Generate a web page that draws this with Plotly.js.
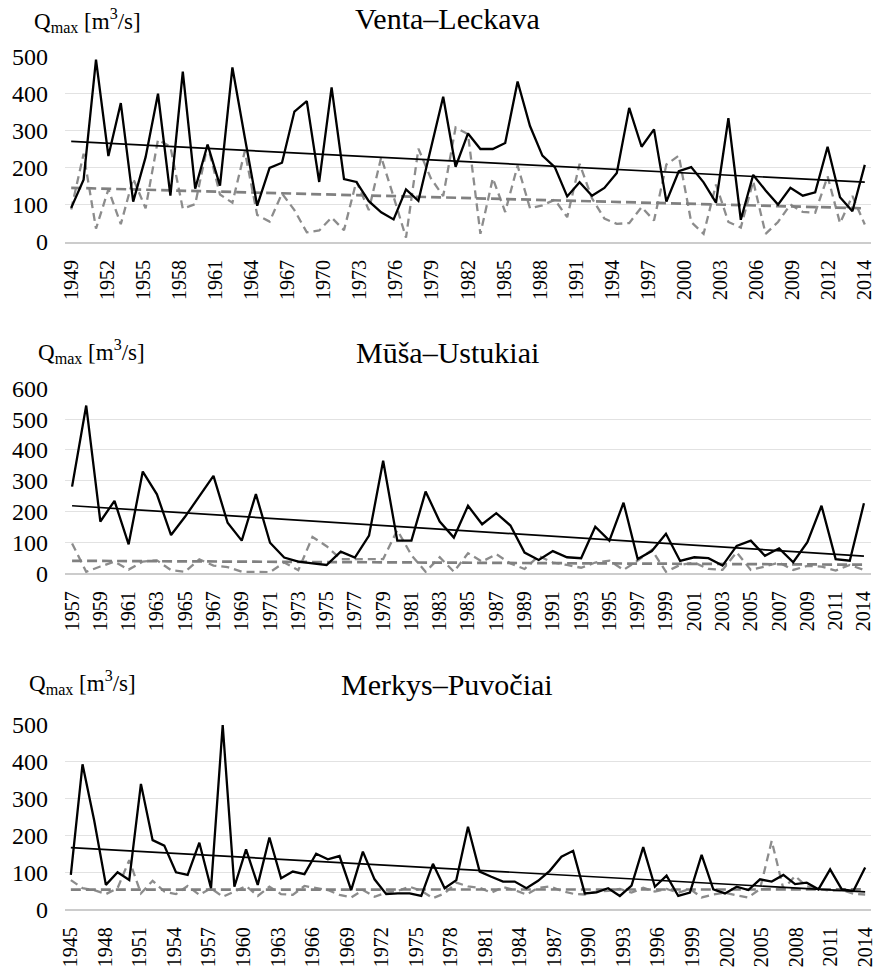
<!DOCTYPE html>
<html>
<head>
<meta charset="utf-8">
<script src="https://cdn.plot.ly/plotly-3.0.1.min.js"></script>
<style>
  html, body { margin: 0; padding: 0; background: #ffffff; }
  #chart { width: 877px; height: 973px; }
</style>
</head>
<body>
<div id="chart"></div>
<script>
// ---------------- DATA ----------------
// Venta–Leckava
const ventaTickLabels = ['1949','1952','1955','1958','1961','1964','1967','1970','1973','1976','1979','1982','1985','1988','1991','1994','1997','2000','2003','2006','2009','2012','2014'];
const ventaSolid = [92,168,492,232,375,109,229,400,125,460,144,263,152,471,282,98,200,214,352,380,162,417,170,162,110,80,61,142,111,251,392,203,293,251,251,267,433,313,233,202,123,161,125,146,186,362,257,304,109,191,202,161,106,334,60,181,139,101,146,125,134,257,121,83,208];
const ventaDashed = [88,238,36,142,48,171,91,276,257,90,102,262,128,106,245,73,55,131,86,26,31,66,32,164,86,229,122,12,252,172,124,309,291,22,172,81,206,91,99,114,67,211,118,63,49,51,94,58,209,233,54,22,155,54,39,164,22,54,101,81,79,177,51,124,47];

// Mūša–Ustukiai
const musaTickLabels = ['1957','1959','1961','1963','1965','1967','1969','1971','1973','1975','1977','1979','1981','1983','1985','1987','1989','1991','1993','1995','1997','1999','2001','2003','2005','2007','2009','2011','2014'];
const musaSolid = [281,544,168,235,94,330,256,124,184,251,316,164,106,257,99,51,38,32,27,70,51,122,365,106,106,265,168,116,219,159,195,155,67,43,72,52,49,151,106,229,46,72,128,40,52,49,25,89,106,57,81,36,101,219,46,41,227];
const musaDashed = [97,5,22,38,12,38,42,10,5,45,25,20,5,4,4,35,10,118,88,46,46,46,46,140,59,5,52,5,65,38,62,32,14,56,35,27,18,35,41,11,41,76,5,27,35,14,11,68,11,22,35,11,24,22,9,27,11];

// Merkys–Puvočiai
const merkysTickLabels = ['1945','1948','1951','1954','1957','1960','1963','1966','1969','1972','1975','1978','1981','1984','1987','1990','1993','1996','1999','2002','2005','2008','2011','2014'];
const merkysSolid = [93,392,240,66,100,79,339,187,172,100,93,180,57,498,61,162,66,194,84,102,95,150,135,144,52,156,81,41,43,43,36,123,57,79,223,102,88,75,75,57,77,104,142,158,43,46,57,36,64,168,61,91,36,45,147,54,43,61,52,81,75,93,68,72,54,108,54,50,113];
const merkysDashed = [79,57,52,41,57,133,43,77,48,41,63,39,57,34,48,63,36,61,41,39,63,57,52,39,32,52,34,45,50,61,50,30,43,72,62,58,45,60,52,40,58,62,50,42,40,48,50,55,45,58,48,55,45,55,32,40,45,38,32,55,185,55,90,62,55,50,52,42,40];

const panelTitles = ['Venta–Leckava', 'Mūša–Ustukiai', 'Merkys–Puvočiai'];
const unitLabel = 'Q<sub>max</sub> [m<sup>3</sup>/s]';

// ---------------- HELPERS ----------------
function idx(n) { return Array.from({length: n}, (_, i) => i); }
function linFit(vals) {
  const n = vals.length;
  let sx = 0, sy = 0, sxx = 0, sxy = 0;
  for (let i = 0; i < n; i++) { sx += i; sy += vals[i]; sxx += i * i; sxy += i * vals[i]; }
  const b = (n * sxy - sx * sy) / (n * sxx - sx * sx);
  const a = (sy - b * sx) / n;
  return { x: [0, n - 1], y: [a, a + b * (n - 1)] };
}
function spreadTicks(labels, n) {
  const step = (n - 1) / (labels.length - 1);
  return labels.map((_, k) => k * step);
}

const SERIF = 'Liberation Serif';
const panels = [
  { solid: ventaSolid, dashed: ventaDashed, labels: ventaTickLabels, ymax: 500, dom: [1 - 242 / 973, 1 - 56.7 / 973] },
  { solid: musaSolid, dashed: musaDashed, labels: musaTickLabels, ymax: 600, dom: [1 - 573.3 / 973, 1 - 388.3 / 973] },
  { solid: merkysSolid, dashed: merkysDashed, labels: merkysTickLabels, ymax: 500, dom: [1 - 909.3 / 973, 1 - 724.3 / 973] }
];

const traces = [];
const layout = {
  width: 877, height: 973,
  margin: { l: 65, r: 6, t: 0, b: 0 },
  paper_bgcolor: '#ffffff', plot_bgcolor: '#ffffff',
  showlegend: false,
  font: { family: SERIF, color: '#000000' },
  annotations: []
};

const titleY = [19, 352, 684];
const unitY = [21, 351, 682];
const unitX = [31.7, 36, 26.7];

panels.forEach((p, k) => {
  const sfx = k === 0 ? '' : String(k + 1);
  const xa = 'x' + sfx, ya = 'y' + sfx;
  const n = p.solid.length;
  const xs = idx(n);
  const tD = linFit(p.dashed), tS = linFit(p.solid);
  traces.push({ x: xs, y: p.dashed, xaxis: xa, yaxis: ya, mode: 'lines', hoverinfo: 'skip',
    line: { color: '#8c8c8c', width: 2.3, dash: '8px,5px' } });
  traces.push({ x: tD.x, y: tD.y, xaxis: xa, yaxis: ya, mode: 'lines', hoverinfo: 'skip',
    line: { color: '#808080', width: 2.7, dash: '10px,5px' } });
  traces.push({ x: xs, y: p.solid, xaxis: xa, yaxis: ya, mode: 'lines', hoverinfo: 'skip',
    line: { color: '#000000', width: 2.3 } });
  traces.push({ x: tS.x, y: tS.y, xaxis: xa, yaxis: ya, mode: 'lines', hoverinfo: 'skip',
    line: { color: '#000000', width: 1.7 } });

  layout['xaxis' + sfx] = {
    domain: [0, 1], anchor: ya, range: [-0.5, n - 0.5],
    tickmode: 'array', tickvals: spreadTicks(p.labels, n), ticktext: p.labels,
    tickangle: -90, ticks: '', showgrid: false, zeroline: false,
    showline: true, linecolor: '#cccccc', linewidth: 2,
    tickfont: { family: SERIF, size: 20, color: '#000' },
    ticklabelstandoff: 8, fixedrange: true
  };
  layout['yaxis' + sfx] = {
    domain: p.dom, anchor: xa, range: [0, p.ymax], dtick: 100, tick0: 0,
    ticks: '', showgrid: true, gridcolor: '#e2e2e2', gridwidth: 1,
    zeroline: false, showline: false,
    tickfont: { family: SERIF, size: 24, color: '#000' },
    ticklabelstandoff: 16, fixedrange: true
  };
  layout.annotations.push({
    text: panelTitles[k], xref: 'paper', yref: 'paper',
    x: (447 - 65) / 806, y: 1 - titleY[k] / 973, xanchor: 'center', yanchor: 'middle',
    showarrow: false, font: { family: SERIF, size: 30, color: '#000' }
  });
  layout.annotations.push({
    text: unitLabel, xref: 'paper', yref: 'paper',
    x: (unitX[k] - 65) / 806, y: 1 - unitY[k] / 973, xanchor: 'left', yanchor: 'middle',
    showarrow: false, font: { family: SERIF, size: 23, color: '#000' }
  });
});

Plotly.newPlot('chart', traces, layout, { displayModeBar: false, staticPlot: true });
</script>
</body>
</html>
